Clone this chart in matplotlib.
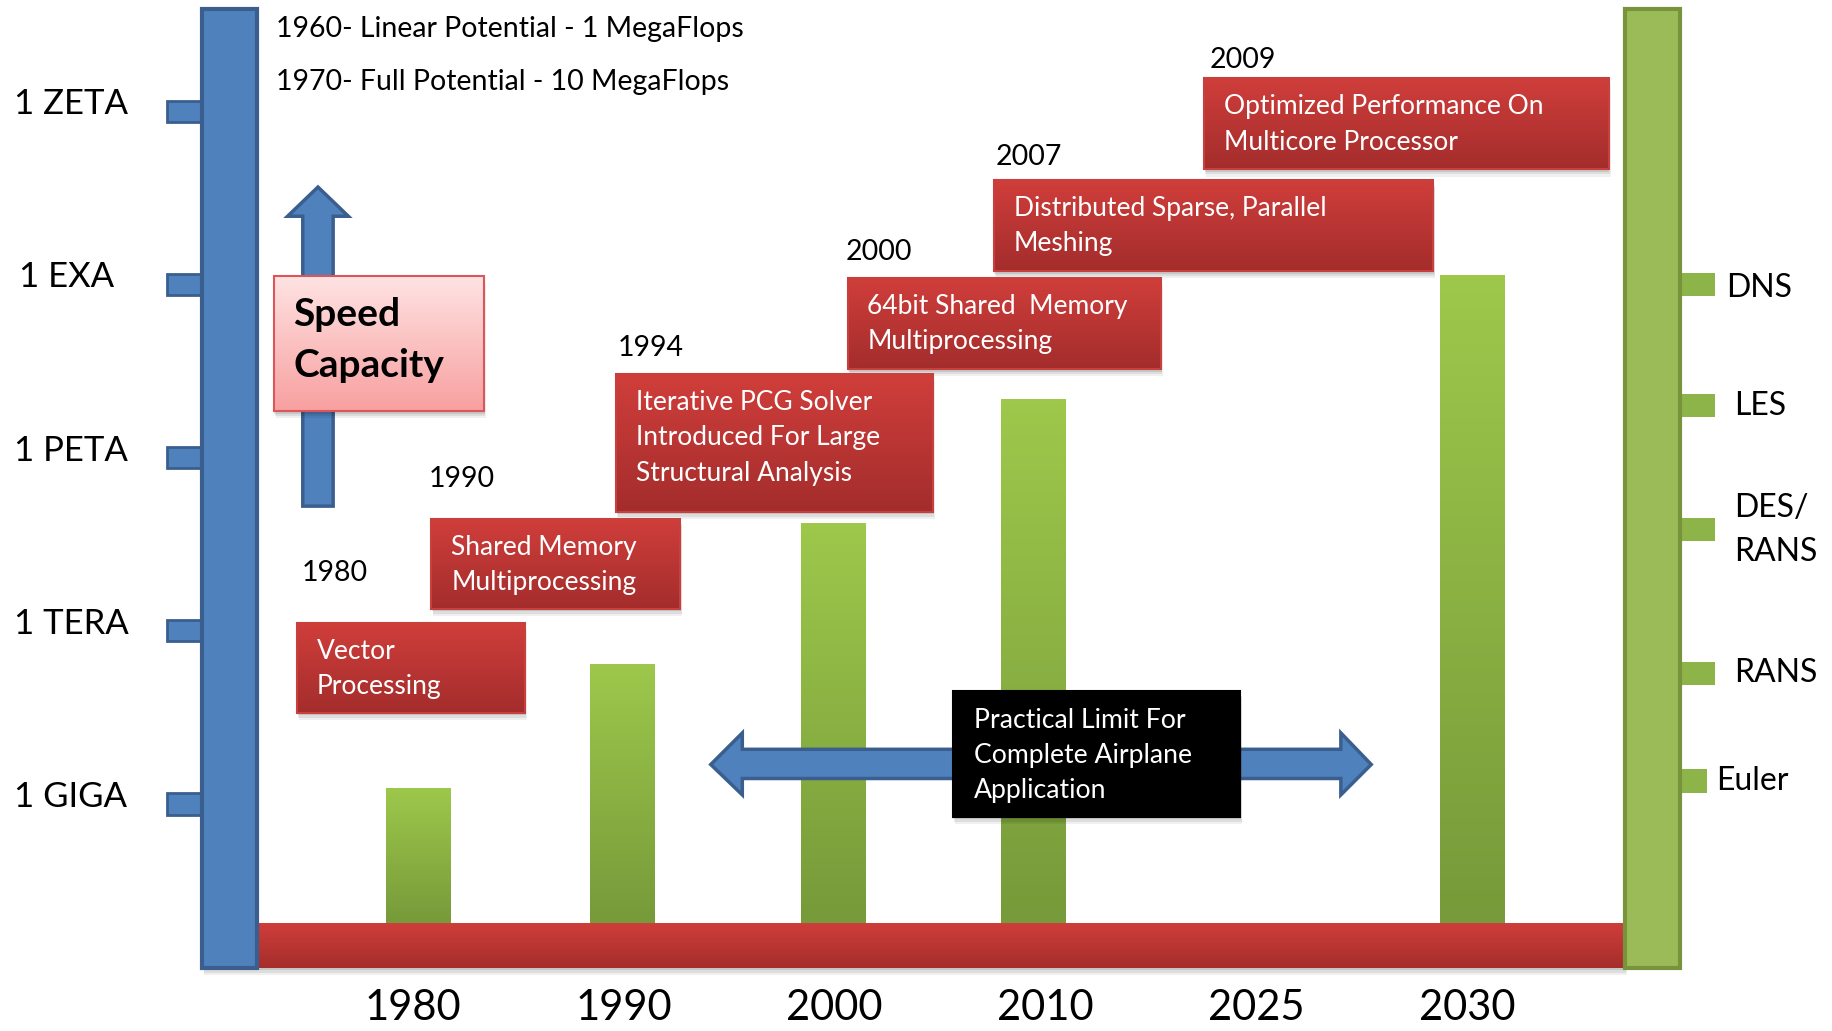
import numpy as np
import matplotlib
matplotlib.use('Agg')
import matplotlib.pyplot as plt
from matplotlib.patches import Rectangle, Polygon
from matplotlib.colors import LinearSegmentedColormap

plt.rcParams['font.family'] = ['Lato', 'DejaVu Sans']

## data: bar tops are log10(flops)
years = ['1980', '1990', '2000', '2010', '2025', '2030']
perf = [9.26, 11.40, 13.85, 16.0, np.nan, 18.15]
scale_labels = ['1 GIGA', '1 TERA', '1 PETA', '1 EXA', '1 ZETA']
scale_exp = [9, 12, 15, 18, 21]
model_labels = ['DNS', 'LES', 'DES/\nRANS', 'RANS', 'Euler']
model_exp = [18.0, 15.90, 13.75, 11.26, 9.40]
milestone_years = ['1980', '1990', '1994', '2000', '2007', '2009']
milestone_text = ['Vector\nProcessing',
                  'Shared Memory\nMultiprocessing',
                  'Iterative PCG Solver\nIntroduced For Large\nStructural Analysis',
                  '64bit Shared  Memory\nMultiprocessing',
                  'Distributed Sparse, Parallel\nMeshing',
                  'Optimized Performance On\nMulticore Processor']
early_text = ['1960- Linear Potential - 1 MegaFlops',
              '1970- Full Potential - 10 MegaFlops']
limit_text = ['Practical Limit For', 'Complete Airplane', 'Application']

## layout (reference pixels of the 1568 wide view)
W, H = 1568., 882.
X0PX, XSTEP = 353., 180.4      # pixel of first year, spacing
Y15PX, YSTEP = 391.4, 49.4     # pixel of 1e15, pixels per decade
BASE_PX = 790.
bar_nudge_px = [4.5, -1.5, -1, -10.5, 0, 4]   # bars sit a bit off their labels

def dx(px):
    return (px - X0PX) / XSTEP

def dy(py):
    return 15 + (Y15PX - py) / YSTEP

base = dy(BASE_PX)

fig = plt.figure(figsize=(18.33, 10.31), dpi=100)
ax = fig.add_axes([0, 0, 1, 1])
ax.set_axis_off()

def grad(x0, x1, ytop, ybot, c_top, c_bot, z):
    cmap = LinearSegmentedColormap.from_list('g', [c_bot, c_top])
    g = np.linspace(0, 1, 128).reshape(-1, 1)
    ax.imshow(g, extent=(x0, x1, ybot, ytop), origin='lower', cmap=cmap,
              aspect='auto', zorder=z, interpolation='bilinear')

def shadow(x0, x1, ytop, ybot, z):
    for k, a in zip([6, 4, 2], [0.06, 0.08, 0.10]):
        ax.add_patch(Rectangle((x0 + k * 0.3 / XSTEP, ybot - k / YSTEP),
                               x1 - x0, ytop - ybot, fc='black', ec='none',
                               alpha=a, zorder=z))

def box(px0, py0, px1, py1, c_top, c_bot, ec, z, shade=True):
    x0, x1, yt, yb = dx(px0), dx(px1), dy(py0), dy(py1)
    if shade:
        shadow(x0, x1, yt, yb, z - 0.2)
    grad(x0, x1, yt, yb, c_top, c_bot, z)
    ax.add_patch(Rectangle((x0, yb), x1 - x0, yt - yb, fc='none', ec=ec,
                           lw=1.5, zorder=z + 0.1))

## green bars
xs = np.arange(len(years))
heights = np.array(perf) - base
bar_x = xs + np.array(bar_nudge_px) / XSTEP
bars = ax.bar(bar_x, heights, bottom=base, width=0.305, color='none', zorder=3)
for b, h in zip(bars, heights):
    if np.isnan(h):
        continue
    x0 = b.get_x()
    grad(x0, x0 + b.get_width(), base + h, base, '#9DC84B', '#779A3A', 3)

## red baseline
box(173, BASE_PX, 1390, 828, '#CF3E3B', '#A52D2B', 'none', 4)

## left blue axis and ticks
for e in scale_exp:
    ax.add_patch(Rectangle((dx(143), e - 9 / YSTEP), dx(173) - dx(143), 18 / YSTEP,
                           fc='#4F81BD', ec='#3A5F8E', lw=2, zorder=5))
ax.add_patch(Rectangle((dx(173), dy(828)), dx(220) - dx(173), dy(8) - dy(828),
                       fc='#4F81BD', ec='#3A5F8E', lw=3, zorder=6))
for lab, e in zip(scale_labels, scale_exp):
    xl = 16 if lab == '1 EXA' else 12
    ax.text(dx(xl), e + 6 / YSTEP, lab, fontsize=25, va='center', ha='left', zorder=7)

## right green axis and ticks
for lab, e in zip(model_labels, model_exp):
    xr = 1460 if lab == 'Euler' else 1467
    ax.add_patch(Rectangle((dx(1437), e - 10 / YSTEP), dx(xr) - dx(1437), 20 / YSTEP,
                           fc='#8DB448', ec='none', zorder=5))
    xt = 1477 if lab == 'DNS' else 1483
    if lab == 'Euler':
        xt = 1468
    yt = e - 3 / YSTEP if lab == 'DNS' else e
    ax.text(dx(xt), yt, lab, fontsize=23, va='center', ha='left',
            linespacing=1.6, zorder=7)
ax.add_patch(Rectangle((dx(1390), dy(828)), dx(1437) - dx(1390), dy(8) - dy(828),
                       fc='#9BBB59', ec='#77933C', lw=3, zorder=6))

## year labels under baseline
for x, yr in zip(xs, years):
    ax.text(x, dy(862), yr, fontsize=30, ha='center', va='center', zorder=7)

## early milestones text
for i, t in enumerate(early_text):
    ax.text(dx(236), dy(25 + 45 * i), t, fontsize=20.5, ha='left', va='center', zorder=7)

## speed capacity arrow + box
up = [(259, 433), (259, 185), (246, 185), (272, 160), (298, 185), (285, 185), (285, 433)]
ax.add_patch(Polygon([(dx(a), dy(b)) for a, b in up], closed=True,
                     fc='#4F81BD', ec='#3A5F8E', lw=2.5, zorder=5))
box(234, 236, 414, 352, '#FFE3E3', '#F8A0A0', '#D9575A', 6)
ax.text(dx(251), dy(269), 'Speed', fontsize=28, fontweight='bold', ha='left', va='center', zorder=7)
ax.text(dx(251), dy(313), 'Capacity', fontsize=28, fontweight='bold', ha='left', va='center', zorder=7)

## milestone boxes
rects = [(254, 533, 449, 610), (369, 444, 582, 521), (527, 320, 798, 438),
         (725, 238, 993, 316), (850, 154, 1226, 232), (1030, 67, 1376, 145)]
yr_pos = [(258, 490), (367, 410), (528, 298), (723, 216), (852, 134), (1035, 51)]
for (x0, y0, x1, y1), (tx, ty), yr, txt in zip(rects, yr_pos, milestone_years, milestone_text):
    box(x0, y0, x1, y1, '#D03E3B', '#A32D2C', '#C8403D', 6)
    for j, line in enumerate(txt.split('\n')):
        ax.text(dx(x0 + 17), dy(y0 + 24 + 30.5 * j), line, color='white',
                fontsize=19, ha='left', va='center', zorder=7)
    ax.text(dx(tx), dy(ty), yr, fontsize=20.5, ha='left', va='center', zorder=7)

## practical limit double arrow + black box
da = [(608, 654), (635, 627), (635, 641), (1147, 641), (1147, 627), (1173, 654),
      (1147, 680), (1147, 666), (635, 666), (635, 680)]
ax.add_patch(Polygon([(dx(a), dy(b)) for a, b in da], closed=True,
                     fc='#4F81BD', ec='#3A5F8E', lw=2.5, zorder=5))
box(815, 591, 1061, 699, '#000000', '#000000', '#000000', 6)
for j, line in enumerate(limit_text):
    ax.text(dx(833), dy(616 + 30 * j), line, color='white', fontsize=19.2,
            ha='left', va='center', zorder=7)

ax.set_xlim(dx(0), dx(W))
ax.set_ylim(dy(H), dy(0))
fig.savefig('out.png', dpi=100, facecolor='white')
